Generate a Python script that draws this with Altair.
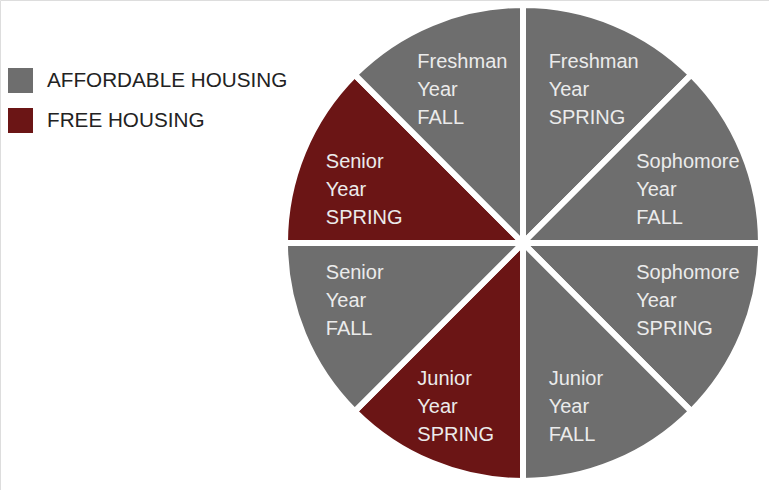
import altair as alt
import pandas as pd

# Slices clockwise from 12 o'clock
years = ["Freshman", "Sophomore", "Sophomore", "Junior", "Junior", "Senior", "Senior", "Freshman"]
terms = ["SPRING", "FALL", "SPRING", "FALL", "SPRING", "FALL", "SPRING", "FALL"]
housing = ["AFFORDABLE HOUSING", "AFFORDABLE HOUSING", "AFFORDABLE HOUSING", "AFFORDABLE HOUSING",
           "FREE HOUSING", "AFFORDABLE HOUSING", "FREE HOUSING", "AFFORDABLE HOUSING"]
shares = [1, 1, 1, 1, 1, 1, 1, 1]
# label placement group (layout only)
groups = ["tb", "us", "ls", "tb", "tb", "ls", "us", "tb"]

df = pd.DataFrame({
    "idx": list(range(len(years))),
    "label": [f"{y}\nYear\n{t}" for y, t in zip(years, terms)],
    "housing": housing,
    "value": shares,
    "grp": groups,
})

FONT = "Liberation Sans, Arial, sans-serif"

color = alt.Color(
    "housing:N",
    scale=alt.Scale(domain=["AFFORDABLE HOUSING", "FREE HOUSING"], range=["#6e6e6e", "#6b1515"]),
    legend=alt.Legend(
        title=None, orient="none", legendX=8, legendY=68,
        symbolType="square", symbolSize=625, symbolStrokeWidth=0, symbolOpacity=1,
        labelFontSize=20.7, labelColor="#222222", labelFont=FONT, labelOffset=14,
        rowPadding=15, labelLimit=400,
    ),
)

base = alt.Chart(df).encode(
    theta=alt.Theta("value:Q", stack=True),
    order=alt.Order("idx:Q"),
)

arcs = base.mark_arc(radius=238, stroke="white", strokeWidth=6).encode(
    color=color,
    x=alt.value(523), y=alt.value(243),
)


def text_layer(grp, radius, dx, dy):
    return base.mark_text(
        radius=radius, align="left", baseline="middle", dx=dx, dy=dy,
        lineBreak="\n", lineHeight=28, fontSize=20, font=FONT, color="#ebebeb",
    ).encode(
        text="label:N",
        x=alt.value(523), y=alt.value(243),
        opacity=alt.condition(alt.datum.grp == grp, alt.value(1), alt.value(0)),
    )


labels = [
    text_layer("tb", 171.5, -40, -22.5),
    text_layer("us", 168, -42, -17),
    text_layer("ls", 168, -42, -34),
]

chart = alt.layer(arcs, *labels).properties(
    width=769, height=490, autosize=alt.AutoSizeParams(type="none"), padding=0,
).configure_view(stroke=None).configure(background="white")

chart.save("out.html", embed_options={"renderer": "svg", "actions": False})
